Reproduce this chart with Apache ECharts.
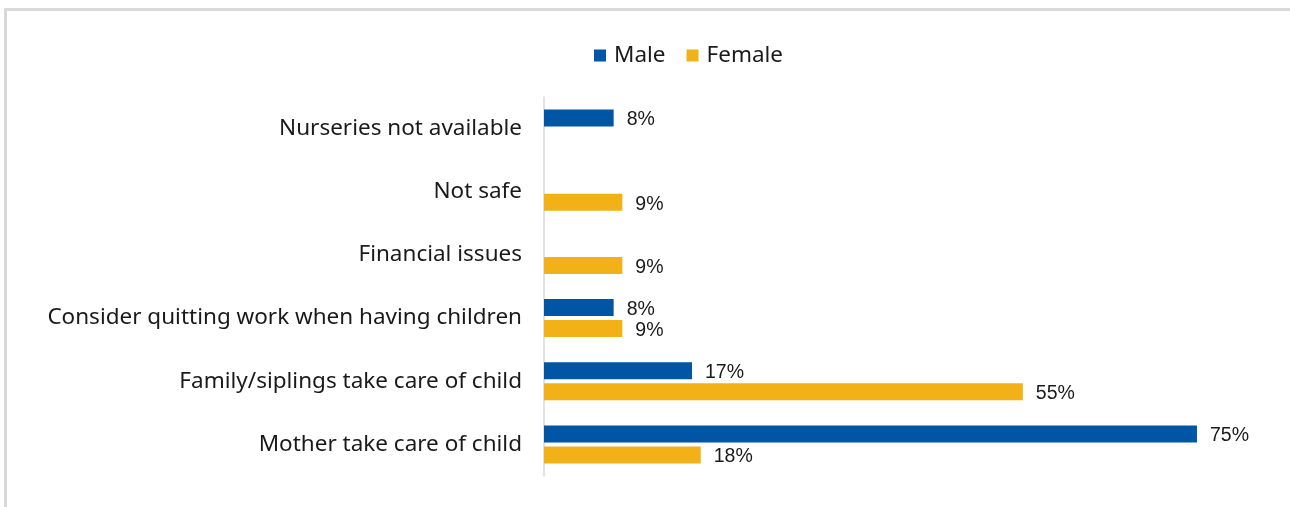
<!DOCTYPE html>
<html>
<head>
<meta charset="utf-8">
<style>
  html, body { margin: 0; padding: 0; background: #ffffff; }
  #chart { width: 1290px; height: 507px; }
</style>
<script src="https://cdn.jsdelivr.net/npm/echarts@6/dist/echarts.min.js"></script>
</head>
<body>
<div id="chart"></div>
<script>
// Reasons given about childcare, share of respondents by gender (%)
const categories = [
  'Nurseries not available',
  'Not safe',
  'Financial issues',
  'Consider quitting work when having children',
  'Family/siplings take care of child',
  'Mother take care of child'
];
const maleValues = [8, null, null, 8, 17, 75];
const femaleValues = [null, 9, 9, 9, 55, 18];
const seriesNames = ['Male', 'Female'];

const BLUE = '#0155A5';
const GOLD = '#F2B117';

const chart = echarts.init(document.getElementById('chart'));

const valueLabel = {
  show: true,
  position: 'right',
  distance: 13,
  offset: [0, 2],
  fontFamily: 'Liberation Sans, Arial, sans-serif',
  fontSize: 19.5,
  color: '#1a1a1a',
  formatter: p => p.value + '%'
};

chart.setOption({
  animation: false,
  backgroundColor: '#ffffff',
  graphic: [{
    type: 'rect',
    silent: true,
    shape: { x: 5.5, y: 9.5, width: 1400, height: 600 },
    style: { fill: 'none', stroke: '#d9d9d9', lineWidth: 3 }
  }],
  legend: {
    top: 39,
    left: 589,
    itemWidth: 12,
    itemHeight: 12,
    itemGap: 21,
    icon: 'rect',
    textStyle: { fontFamily: 'Noto Sans', fontSize: 22.5, color: '#1a1a1a', padding: [0, 0, 0, 3] },
    data: seriesNames
  },
  grid: { left: 544, right: 49.5, top: 97, bottom: 31 },
  xAxis: {
    type: 'value',
    min: 0,
    max: 80,
    show: false
  },
  yAxis: {
    type: 'category',
    inverse: true,
    data: categories,
    axisTick: { show: false },
    axisLine: { show: true, lineStyle: { color: '#d9d9d9', width: 1.5 } },
    axisLabel: {
      margin: 22,
      fontFamily: 'Noto Sans',
      fontSize: 22.5,
      color: '#1a1a1a'
    }
  },
  series: [
    {
      name: seriesNames[0],
      type: 'bar',
      data: maleValues,
      barWidth: 17,
      barGap: '24%',
      itemStyle: { color: BLUE },
      label: valueLabel
    },
    {
      name: seriesNames[1],
      type: 'bar',
      data: femaleValues,
      barWidth: 17,
      barGap: '24%',
      itemStyle: { color: GOLD },
      label: valueLabel
    }
  ]
});
</script>
</body>
</html>
